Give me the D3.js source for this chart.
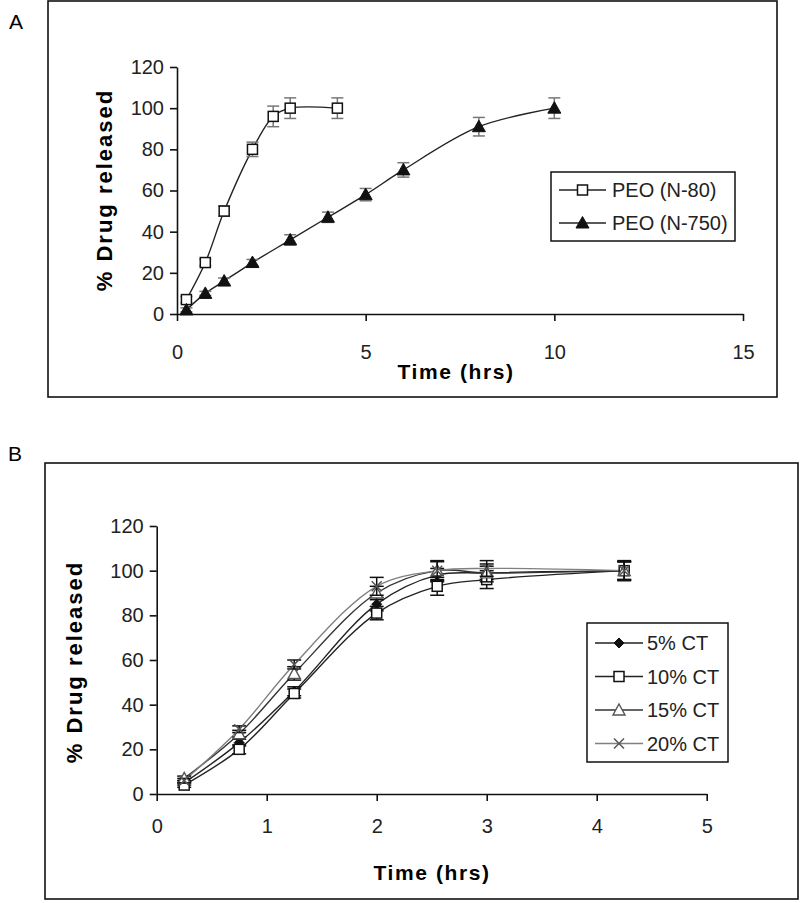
<!DOCTYPE html>
<html><head><meta charset="utf-8">
<script src="https://cdn.jsdelivr.net/npm/d3@7"></script>
<style>
html,body{margin:0;padding:0;background:#fff;}
svg{display:block;font-family:"Liberation Sans",Arial,sans-serif;}
</style></head>
<body>
<svg id="c" width="800" height="903"></svg>
<script>
// ---------- Panel A data ----------
const timeN80 = [0.25, 0.75, 1.25, 2, 2.55, 3, 4.25];
const peoN80 = [7, 25, 50, 80, 96, 100, 100];
const peoN80Err = [1.5, 1.5, 2.5, 3.5, 5, 5, 5];
const timeN750 = [0.25, 0.75, 1.25, 2, 3, 4, 5, 6, 8, 10];
const peoN750 = [2, 10, 16, 25, 36, 47, 58, 70, 91, 100];
const peoN750Err = [1, 1, 1.5, 1.5, 2.5, 2.5, 3, 3.5, 4.5, 5];
const legendA = ["PEO (N-80)", "PEO (N-750)"];
const xTicksA = [0, 5, 10, 15];
const yTicks = [0, 20, 40, 60, 80, 100, 120];

// ---------- Panel B data ----------
const timeB = [0.25, 0.75, 1.25, 2, 2.55, 3, 4.25];
const ct5 = [5, 23, 46, 85, 98, 99, 100];
const ct10 = [4, 20, 45, 81, 93, 96, 100];
const ct15 = [7, 27, 54, 90, 100, 99, 100];
const ct20 = [6, 29, 58, 93, 100, 101, 100];
const ct5Err = [1, 1.5, 2, 3, 3, 3, 4];
const ct10Err = [1, 2, 2, 3, 4, 4, 4];
const ct15Err = [1, 1.5, 3, 3, 4, 4, 4];
const ct20Err = [1, 1.5, 2, 4, 4.5, 3.5, 4.5];
const legendB = ["5% CT", "10% CT", "15% CT", "20% CT"];
const xTicksB = [0, 1, 2, 3, 4, 5];

const svg = d3.select("#c");

function panel(cfg) {
  const g = svg.append("g");
  g.append("rect").attr("x", cfg.box[0]).attr("y", cfg.box[1])
    .attr("width", cfg.box[2]).attr("height", cfg.box[3])
    .attr("fill", "none").attr("stroke", "#111").attr("stroke-width", 1.6);
  g.append("text").attr("x", cfg.tag[0]).attr("y", cfg.tag[1])
    .attr("font-size", 21).text(cfg.tagText);

  const x = d3.scaleLinear().domain(cfg.xDomain).range(cfg.xRange);
  const y = d3.scaleLinear().domain([0, 120]).range(cfg.yRange);

  const xa = g.append("g").attr("transform", `translate(0,${cfg.yRange[0]})`)
    .call(d3.axisBottom(x).tickValues(cfg.xTicks).tickSize(7).tickSizeOuter(0).tickPadding(cfg.xPad).tickFormat(d3.format("d")));
  const ya = g.append("g").attr("transform", `translate(${cfg.xRange[0]},0)`)
    .call(d3.axisLeft(y).tickValues(yTicks).tickSize(7).tickSizeOuter(0).tickPadding(cfg.yPad).tickFormat(d3.format("d")));
  [xa, ya].forEach(a => {
    a.selectAll("path,line").attr("stroke", "#111").attr("stroke-width", 1.6);
    a.selectAll("text").attr("font-size", 20).attr("fill", "#222")
      .attr("font-family", "'Liberation Sans',Arial,sans-serif");
  });

  g.append("text").attr("x", cfg.xTitle[0]).attr("y", cfg.xTitle[1])
    .attr("text-anchor", "middle").attr("font-weight", "bold").attr("font-size", 21)
    .attr("letter-spacing", 1.6).text("Time (hrs)");
  g.append("text").attr("transform", `translate(${cfg.yTitle[0]},${cfg.yTitle[1]}) rotate(-90)`)
    .attr("text-anchor", "middle").attr("font-weight", "bold").attr("font-size", 22)
    .attr("letter-spacing", 2).text("% Drug released");

  const line = d3.line().x(d => x(d[0])).y(d => y(d[1])).curve(d3.curveCatmullRom.alpha(0.5));

  cfg.series.forEach(s => {
    const pts = s.t.map((t, i) => [t, s.v[i], s.e[i]]);
    g.append("path").attr("d", line(pts)).attr("fill", "none")
      .attr("stroke", s.lineColor).attr("stroke-width", 1.4);
  });
  cfg.series.forEach(s => {
    const pts = s.t.map((t, i) => [t, s.v[i], s.e[i]]);
    const eb = g.append("g").attr("stroke", s.errColor).attr("stroke-width", 1.5);
    pts.forEach(p => {
      const cx = x(p[0]), y1 = y(p[1] + p[2]), y2 = y(p[1] - p[2]);
      eb.append("line").attr("x1", cx).attr("x2", cx).attr("y1", y1).attr("y2", y2);
      eb.append("line").attr("x1", cx - cfg.cap).attr("x2", cx + cfg.cap).attr("y1", y1).attr("y2", y1);
      eb.append("line").attr("x1", cx - cfg.cap).attr("x2", cx + cfg.cap).attr("y1", y2).attr("y2", y2);
    });
    pts.forEach(p => marker(g, s.marker, x(p[0]), y(p[1])));
  });

  // legend
  const L = cfg.legend;
  g.append("rect").attr("x", L.box[0]).attr("y", L.box[1]).attr("width", L.box[2]).attr("height", L.box[3])
    .attr("fill", "#fff").attr("stroke", "#111").attr("stroke-width", 1.5);
  cfg.series.forEach((s, i) => {
    const ly = L.y0 + i * L.dy;
    g.append("line").attr("x1", L.lx[0]).attr("x2", L.lx[1]).attr("y1", ly).attr("y2", ly)
      .attr("stroke", s.lineColor).attr("stroke-width", 1.4);
    marker(g, s.marker, (L.lx[0] + L.lx[1]) / 2, ly);
    g.append("text").attr("x", L.tx).attr("y", ly + 7).attr("font-size", 20).attr("fill", "#222")
      .text(s.name);
  });
}

function marker(g, type, cx, cy) {
  if (type === "square") {
    g.append("rect").attr("x", cx - 5).attr("y", cy - 5).attr("width", 10).attr("height", 10)
      .attr("fill", "#fff").attr("stroke", "#111").attr("stroke-width", 1.5);
  } else if (type === "triFill") {
    g.append("path").attr("d", `M${cx},${cy - 6.5}L${cx + 6.5},${cy + 5}L${cx - 6.5},${cy + 5}Z`)
      .attr("fill", "#111").attr("stroke", "#111").attr("stroke-width", 1);
  } else if (type === "diamond") {
    g.append("path").attr("d", `M${cx},${cy - 5}L${cx + 5},${cy}L${cx},${cy + 5}L${cx - 5},${cy}Z`)
      .attr("fill", "#111").attr("stroke", "#111").attr("stroke-width", 1);
  } else if (type === "triOpen") {
    g.append("path").attr("d", `M${cx},${cy - 6}L${cx + 6},${cy + 5}L${cx - 6},${cy + 5}Z`)
      .attr("fill", "#fff").attr("stroke", "#555").attr("stroke-width", 1.4);
  } else if (type === "cross") {
    g.append("path").attr("d", `M${cx - 5},${cy - 5}L${cx + 5},${cy + 5}M${cx + 5},${cy - 5}L${cx - 5},${cy + 5}`)
      .attr("stroke", "#555").attr("stroke-width", 1.5);
  }
}

panel({
  box: [48, 1, 729, 396], tag: [9, 29], tagText: "A",
  xDomain: [0, 15], xRange: [177, 743], yRange: [314, 67],
  xTicks: xTicksA, xPad: 24, yPad: 6,
  xTitle: [456, 379], yTitle: [112, 190], cap: 6,
  series: [
    { name: legendA[0], t: timeN80, v: peoN80, e: peoN80Err, marker: "square", lineColor: "#222", errColor: "#777" },
    { name: legendA[1], t: timeN750, v: peoN750, e: peoN750Err, marker: "triFill", lineColor: "#222", errColor: "#777" }
  ],
  legend: { box: [551, 172, 184, 69], y0: 190, dy: 33, lx: [559, 606], tx: 612 }
});

panel({
  box: [45, 463, 753, 436], tag: [8, 461], tagText: "B",
  xDomain: [0, 5], xRange: [156.7, 706.7], yRange: [794, 526],
  xTicks: xTicksB, xPad: 18, yPad: 6,
  xTitle: [432, 880], yTitle: [82, 662], cap: 7,
  series: [
    { name: legendB[0], t: timeB, v: ct5, e: ct5Err, marker: "diamond", lineColor: "#222", errColor: "#111" },
    { name: legendB[1], t: timeB, v: ct10, e: ct10Err, marker: "square", lineColor: "#222", errColor: "#111" },
    { name: legendB[2], t: timeB, v: ct15, e: ct15Err, marker: "triOpen", lineColor: "#333", errColor: "#111" },
    { name: legendB[3], t: timeB, v: ct20, e: ct20Err, marker: "cross", lineColor: "#808080", errColor: "#111" }
  ],
  legend: { box: [587, 623, 141, 139], y0: 643, dy: 33.5, lx: [595, 643], tx: 647 }
});
</script>
</body></html>
